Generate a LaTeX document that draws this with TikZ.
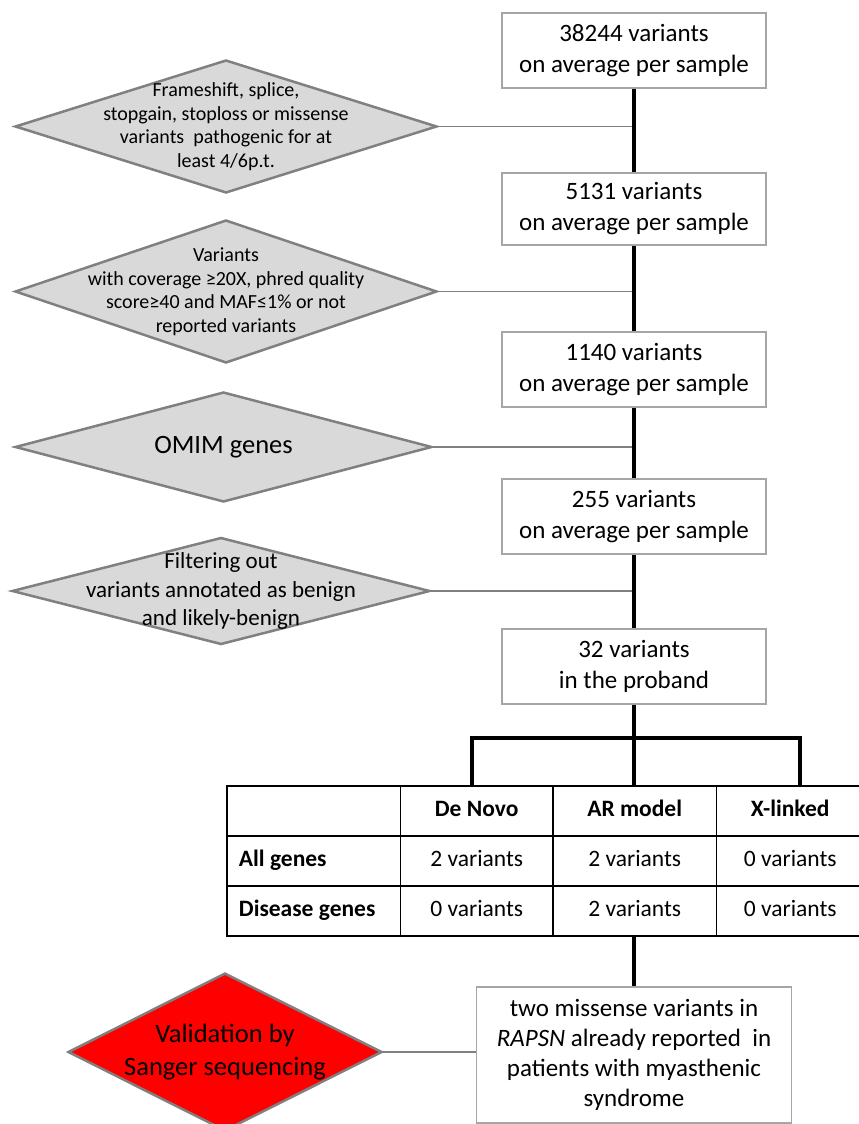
\documentclass[tikz,border=0pt]{standalone}
\usepackage{fontspec}
\setmainfont{Carlito}
\usetikzlibrary{shapes.geometric,matrix}

\begin{document}
\begin{tikzpicture}[
		x=1pt, y=-1pt,
		trunk/.style={line width=4.5pt},
		link/.style={draw=black!50, line width=1.3pt},
		block/.style={draw=black!35, line width=1.2pt, fill=white, minimum width=264pt, minimum height=75pt, align=center, font=\fontsize{25}{31}\selectfont},
		gate/.style={diamond, draw=black!50, line width=2.5pt, fill=black!15, inner xsep=-160pt, inner ysep=-70pt, minimum width=422pt, align=center, font=\fontsize{20}{23.5}\selectfont},
		cell/.style={draw, line width=1.5pt, anchor=center, minimum height=50pt, text height=17pt, text depth=5pt, inner sep=0pt, outer sep=0pt, font=\fontsize{23.5}{28}\selectfont},
	]
		\useasboundingbox (0,0) rectangle (859,1124);

		\node (b1) [block] at (634,50.5) {38244 variants\\on average per sample};
		\node (b2) [block, minimum height=72pt] at (634,209) {5131 variants\\on average per sample};
		\node (b3) [block] at (634,369.5) {1140 variants\\on average per sample};
		\node (b4) [block] at (634,516.5) {255 variants\\on average per sample};
		\node (b5) [block] at (634,666.5) {32 variants\\in the proband};

		\node (d1) [gate, minimum height=133pt] at (226,126.5) {Frameshift, splice,\\stopgain, stoploss or missense\\variants~ pathogenic for at\\least 4/6p.t.};
		\node (d2) [gate, minimum height=143pt] at (226,291.5) {Variants\\with coverage ≥20X, phred quality\\score≥40 and MAF≤1\% or not\\reported variants};
		\node (d3) [gate, minimum height=110pt, minimum width=417pt, font=\fontsize{26.5}{32}\selectfont] at (223.5,447) {OMIM genes};
		\node (d4) [gate, minimum height=107pt, minimum width=418pt, font=\fontsize{23}{28.5}\selectfont] at (221,591) {Filtering out\\variants annotated as benign\\and likely-benign};

		\matrix (tab) [matrix of nodes, nodes in empty cells, anchor=north west, inner sep=0pt,
			column sep=-1.5pt, row sep=-1.5pt, nodes={cell},
			column 1/.style={nodes={text width=149.5pt, inner xsep=12pt, align=flush left}},
			column 2/.style={nodes={minimum width=152.5pt}},
			column 3/.style={nodes={minimum width=163.5pt}},
			column 4/.style={nodes={minimum width=147.5pt}}] at (226,785) {
			& \textbf{De Novo} & \textbf{AR model} & \textbf{X-linked} \\
			\textbf{All genes} & 2 variants & 2 variants & 0 variants \\
			\textbf{Disease genes} & 0 variants & 2 variants & 0 variants \\
		};

		\node (res) [block, minimum width=315pt, minimum height=136pt, font=\fontsize{25}{30}\selectfont] at (634,1055) {two missense variants in\\\textit{RAPSN} already reported~ in\\patients with myasthenic\\syndrome};
		\node (val) [gate, fill=red, minimum width=314pt, minimum height=158pt, font=\fontsize{26.5}{33}\selectfont] at (225,1052) {Validation by\\Sanger sequencing};

		\draw[link] (d1.east) -- (d1.east -| b1);
		\draw[link] (d2.east) -- (d2.east -| b2);
		\draw[link] (d3.east) -- (d3.east -| b3);
		\draw[link] (d4.east) -- (d4.east -| b4);
		\draw[link] (val.east) -- (val.east -| res.west);

		\coordinate (fork) at (634,738);
		\draw[trunk] (b1) -- (b2);
		\draw[trunk] (b2) -- (b3);
		\draw[trunk] (b3) -- (b4);
		\draw[trunk] (b4) -- (b5);
		\draw[trunk] (b5) -- (b5 |- tab.north);
		\draw[trunk] ([xshift=-4.5pt]tab-1-2.north) |- (fork) -| ([xshift=10pt]tab-1-4.north);
		\draw[trunk] (b5 |- tab.south) -- (res);
	\end{tikzpicture}
\end{document}
